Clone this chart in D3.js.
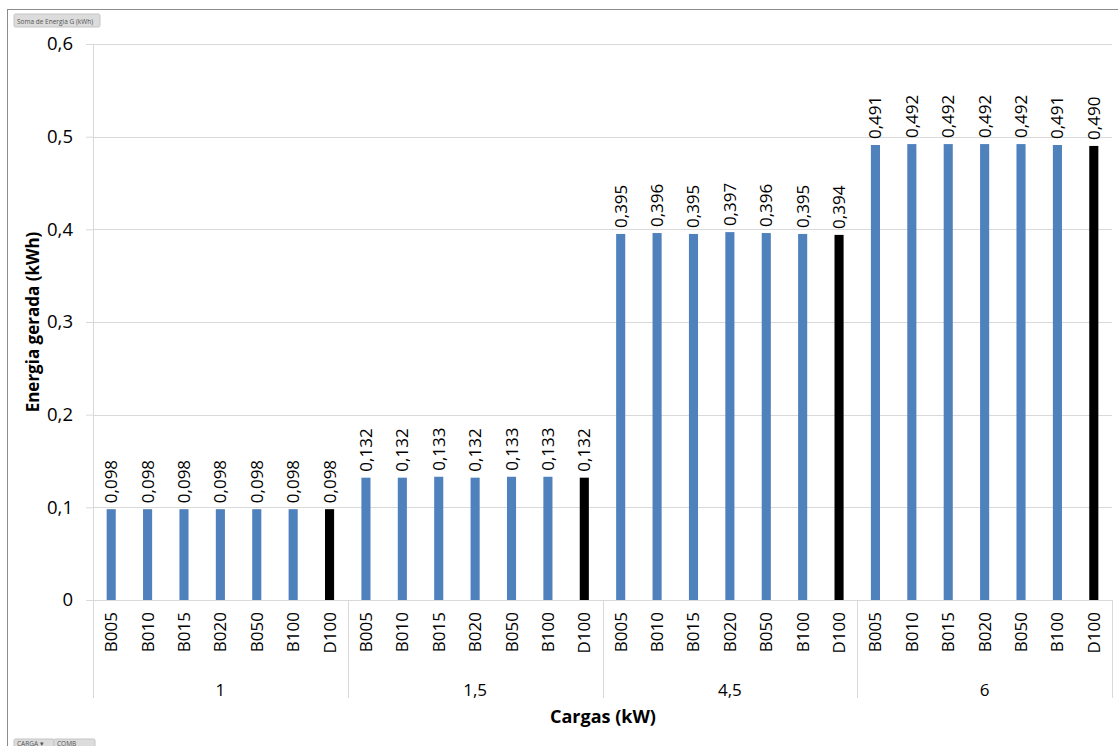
<!DOCTYPE html>
<html><head><meta charset="utf-8">
<script src="https://cdn.jsdelivr.net/npm/d3@7"></script>
<style>
body{margin:0;background:#fff;}
svg{display:block;font-family:"Open Sans",sans-serif;}
</style></head>
<body>
<svg id="c" width="1118" height="746"></svg>
<script>
const groups = ["1", "1,5", "4,5", "6"];
const fuels = ["B005", "B010", "B015", "B020", "B050", "B100", "D100"];
const values_1 = [0.098, 0.098, 0.098, 0.098, 0.098, 0.098, 0.098];
const values_1_5 = [0.132, 0.132, 0.133, 0.132, 0.133, 0.133, 0.132];
const values_4_5 = [0.395, 0.396, 0.395, 0.397, 0.396, 0.395, 0.394];
const values_6 = [0.491, 0.492, 0.492, 0.492, 0.492, 0.491, 0.490];
const yTicks = [0, 0.1, 0.2, 0.3, 0.4, 0.5, 0.6];

const groupValues = [values_1, values_1_5, values_4_5, values_6];
const data = [];
groups.forEach((g, gi) => fuels.forEach((f, fi) => data.push({key: g + "|" + f, group: g, fuel: f, value: groupValues[gi][fi]})));

const svg = d3.select("#c");
const L = 93, R = 1112, T = 44, B = 600;
const fmt = v => v.toFixed(3).replace(".", ",");
const fmtTick = v => v === 0 ? "0" : v.toFixed(1).replace(".", ",");

// frame
svg.append("line").attr("x1", 7.5).attr("x2", 7.5).attr("y1", 9).attr("y2", 746).attr("stroke", "#8c8c8c").attr("stroke-width", 1);
svg.append("line").attr("x1", 7).attr("x2", 1118).attr("y1", 9.5).attr("y2", 9.5).attr("stroke", "#8c8c8c").attr("stroke-width", 1);

const x = d3.scaleBand().domain(data.map(d => d.key)).range([L, R]).paddingInner(0.75).paddingOuter(0.375);
const y = d3.scaleLinear().domain([0, 0.6]).range([B, T]);
const xg = d3.scaleBand().domain(groups).range([L, R]);

// gridlines & y axis
const yAxis = d3.axisLeft(y).tickValues(yTicks).tickFormat(fmtTick).tickSize(7).tickPadding(13);
const ga = svg.append("g").attr("transform", `translate(${L},0)`).call(yAxis);
ga.select(".domain").remove();
ga.selectAll(".tick line").attr("stroke", "#d9d9d9");
ga.selectAll(".tick text").attr("font-size", 18.5).attr("fill", "#000").attr("font-family", "Open Sans");
svg.append("g").selectAll("line").data(yTicks.slice(1)).join("line")
  .attr("x1", L).attr("x2", R).attr("y1", d => Math.round(y(d)) + 0.5).attr("y2", d => Math.round(y(d)) + 0.5)
  .attr("stroke", "#d9d9d9");

// bars
svg.append("g").selectAll("rect").data(data).join("rect")
  .attr("x", d => x(d.key)).attr("width", x.bandwidth())
  .attr("y", d => y(d.value)).attr("height", d => y(0) - y(d.value))
  .attr("fill", d => d.fuel === "D100" ? "#000000" : "#4f81bd");

// data labels
svg.append("g").selectAll("text").data(data).join("text")
  .attr("transform", d => `translate(${x(d.key) + x.bandwidth() / 2 + 6},${y(d.value) - 6}) rotate(-90)`)
  .attr("font-size", 17).attr("fill", "#000").text(d => fmt(d.value));

// x axis baseline and separators
svg.append("line").attr("x1", L).attr("x2", R).attr("y1", B + 0.5).attr("y2", B + 0.5).attr("stroke", "#d9d9d9");
svg.append("line").attr("x1", L + 0.5).attr("x2", L + 0.5).attr("y1", T).attr("y2", B).attr("stroke", "#d9d9d9");
const seps = groups.map(g => xg(g)).concat([R]);
svg.append("g").selectAll("line").data(seps).join("line")
  .attr("x1", d => Math.round(d) + 0.5).attr("x2", d => Math.round(d) + 0.5)
  .attr("y1", B).attr("y2", 698).attr("stroke", "#d9d9d9");

// fuel labels
svg.append("g").selectAll("text").data(data).join("text")
  .attr("transform", d => `translate(${x(d.key) + x.bandwidth() / 2 + 6},${B + 12}) rotate(-90)`)
  .attr("text-anchor", "end").attr("font-size", 17).attr("fill", "#000").text(d => d.fuel);

// group labels
svg.append("g").selectAll("text").data(groups).join("text")
  .attr("x", d => xg(d) + xg.bandwidth() / 2).attr("y", 696)
  .attr("text-anchor", "middle").attr("font-size", 17).attr("fill", "#000").text(d => d);

// axis titles
svg.append("text").attr("x", 603).attr("y", 723).attr("text-anchor", "middle")
  .attr("font-size", 18).attr("font-weight", "bold").attr("fill", "#000").text("Cargas (kW)");
svg.append("text").attr("transform", "translate(39,322) rotate(-90)").attr("text-anchor", "middle")
  .attr("font-size", 17).attr("font-weight", "bold").attr("fill", "#000").text("Energia gerada (kWh)");

// field buttons
function button(x0, y0, w, h, label) {
  svg.append("rect").attr("x", x0).attr("y", y0).attr("width", w).attr("height", h).attr("rx", 1.5)
    .attr("fill", "#dcdcdc").attr("stroke", "#c4c4c4");
  svg.append("text").attr("x", x0 + 3).attr("y", y0 + h - 3.5).attr("font-size", 6.5).attr("fill", "#555").text(label);
}
button(14, 14, 86, 13, "Soma de Energia G (kWh)");
button(14, 739, 40, 10, "CARGA  ▾");
button(54, 739, 41, 10, "COMB");
</script>
</body></html>
